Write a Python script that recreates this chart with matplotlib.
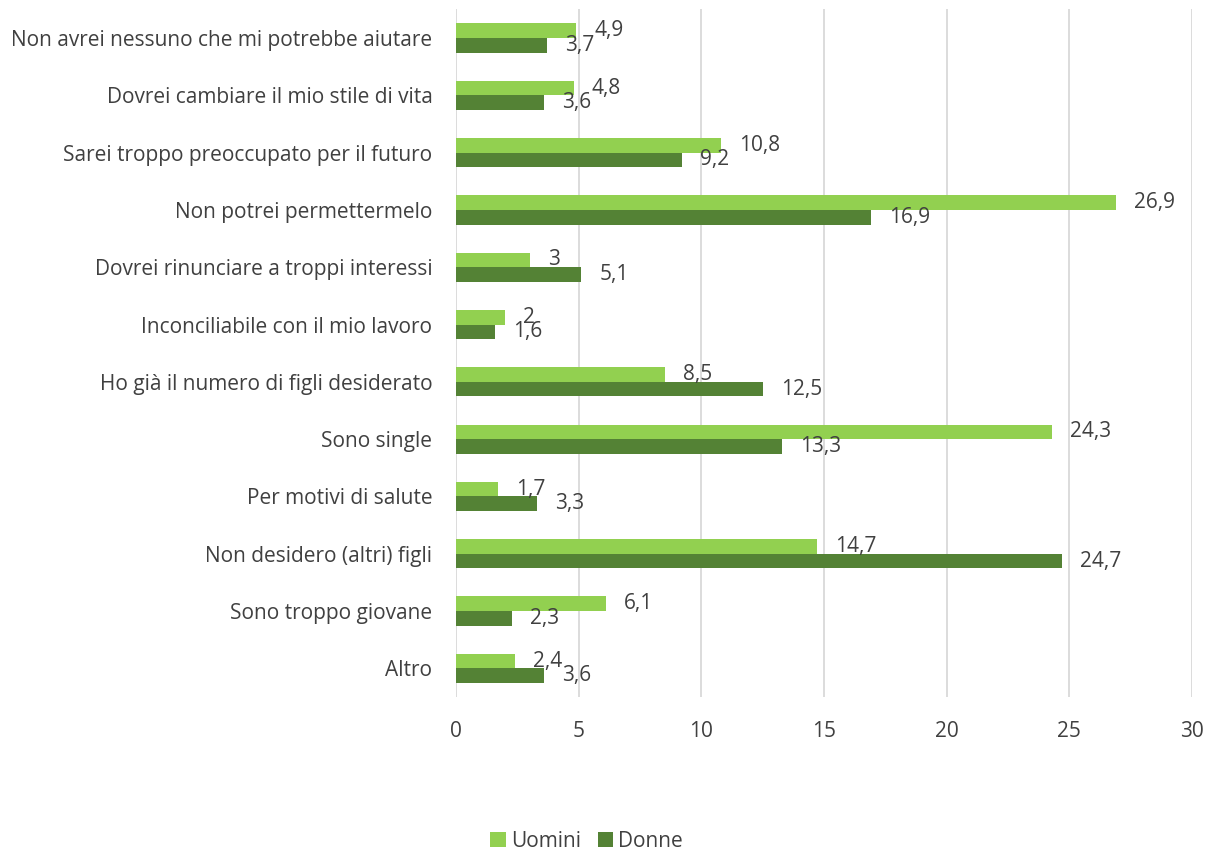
import numpy as np
import matplotlib.pyplot as plt

# Motivi (dall'alto verso il basso)
categorie = [
    "Non avrei nessuno che mi potrebbe aiutare",
    "Dovrei cambiare il mio stile di vita",
    "Sarei troppo preoccupato per il futuro",
    "Non potrei permettermelo",
    "Dovrei rinunciare a troppi interessi",
    "Inconciliabile con il mio lavoro",
    "Ho già il numero di figli desiderato",
    "Sono single",
    "Per motivi di salute",
    "Non desidero (altri) figli",
    "Sono troppo giovane",
    "Altro",
]
uomini = [4.9, 4.8, 10.8, 26.9, 3.0, 2.0, 8.5, 24.3, 1.7, 14.7, 6.1, 2.4]
donne = [3.7, 3.6, 9.2, 16.9, 5.1, 1.6, 12.5, 13.3, 3.3, 24.7, 2.3, 3.6]

plt.rcParams['font.family'] = ['Open Sans', 'DejaVu Sans']
testo = '#404040'
chiaro = '#92D050'
scuro = '#548235'
fs = 15

fig = plt.figure(figsize=(12.07, 8.57), dpi=100)
ax = fig.add_axes([0.3778, 0.1867, 0.6098, 0.8023])

y = np.arange(len(categorie))
h = 0.255
b1 = ax.barh(y - h / 2, uomini, height=h, color=chiaro, label='Uomini', zorder=3)
b2 = ax.barh(y + h / 2, donne, height=h, color=scuro, label='Donne', zorder=3)

def fmt(v):
    s = f"{v:g}"
    return s.replace('.', ',')

for bars, vals in ((b1, uomini), (b2, donne)):
    ax.bar_label(bars, labels=[fmt(v) for v in vals], padding=13,
                 fontsize=fs, color=testo)

ax.set_ylim(len(categorie) - 0.5, -0.5)
ax.set_xlim(0, 30)
ax.set_xticks(range(0, 31, 5))
ax.set_yticks(y)
ax.set_yticklabels(categorie)
ax.tick_params(axis='both', length=0, labelsize=fs, labelcolor=testo)
ax.tick_params(axis='x', pad=17)
ax.tick_params(axis='y', pad=17)
ax.grid(axis='x', color='#D9D9D9', linewidth=1.3, zorder=0)
for s in ax.spines.values():
    s.set_visible(False)

fig.legend(handles=[b1, b2], labels=['Uomini', 'Donne'], loc='lower center',
           bbox_to_anchor=(0.486, -0.016), ncol=2, frameon=False,
           fontsize=fs, labelcolor=testo, handlelength=0.75, handleheight=0.75,
           handletextpad=0.25, columnspacing=0.8)

fig.savefig('out.png', dpi=100)
